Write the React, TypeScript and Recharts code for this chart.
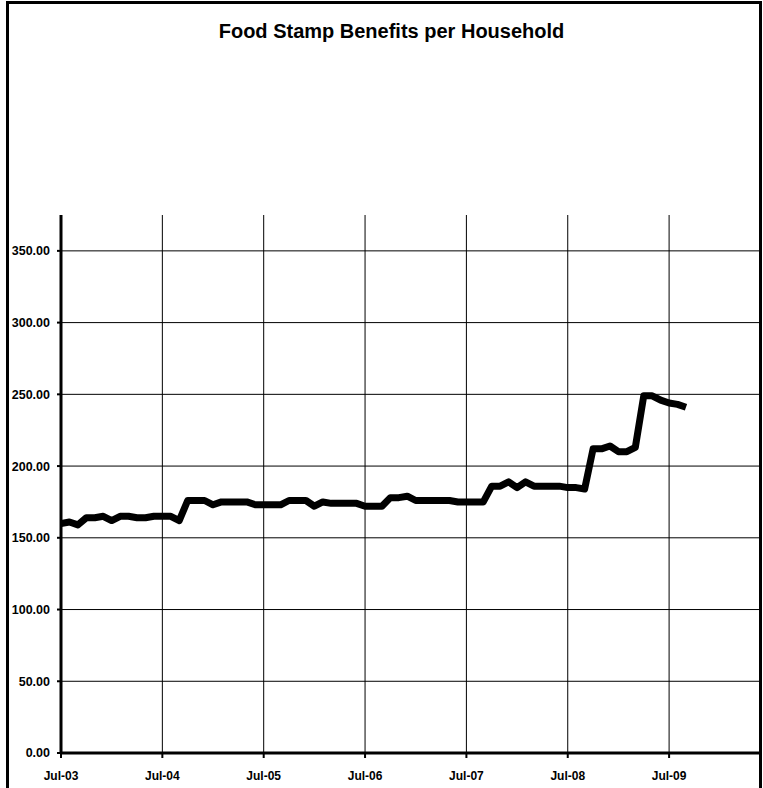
import { CartesianGrid, Line, LineChart, XAxis, YAxis } from "recharts";

// monthly benefit per household, Jul-03 .. Sep-09
const BENEFITS = [
  160, 161, 159, 164, 164, 165, 162, 165, 165, 164, 164, 165,
  165, 165, 162, 176, 176, 176, 173, 175, 175, 175, 175, 173,
  173, 173, 173, 176, 176, 176, 172, 175, 174, 174, 174, 174,
  172, 172, 172, 178, 178, 179, 176, 176, 176, 176, 176, 175,
  175, 175, 175, 186, 186, 189, 185, 189, 186, 186, 186, 186,
  185, 185, 184, 212, 212, 214, 210, 210, 213, 249, 249, 246,
  244, 243, 241,
];

const X_TICKS = [0, 12, 24, 36, 48, 60, 72];
const X_LABELS = ["Jul-03", "Jul-04", "Jul-05", "Jul-06", "Jul-07", "Jul-08", "Jul-09"];
const Y_TICKS = [0, 50, 100, 150, 200, 250, 300, 350];

const font = "'Liberation Sans', Arial, sans-serif";
const xTickStyle = { fill: "#000", fontSize: 12, fontWeight: 700, fontFamily: font };
const yTickStyle = { fill: "#000", fontSize: 12.5, fontWeight: 700, fontFamily: font };

export default function App() {
  const data = BENEFITS.map((v, i) => ({ m: i, v }));

  return (
    <div style={{ position: "absolute", left: 0, top: 0, width: 763, height: 788, overflow: "hidden", background: "#fff" }}>
      <div
        style={{
          position: "absolute",
          left: 6,
          top: 1,
          width: 756,
          height: 820,
          border: "3px solid #000",
          boxSizing: "border-box",
        }}
      />
      <div
        style={{
          position: "absolute",
          left: 0,
          top: 20,
          width: 783,
          textAlign: "center",
          fontFamily: font,
          fontWeight: 700,
          fontSize: 20,
          color: "#000",
        }}
      >
        Food Stamp Benefits per Household
      </div>
      <div style={{ position: "absolute", left: 0, top: 0 }}>
        <LineChart width={763} height={788} data={data} margin={{ top: 215, right: 1, bottom: 0, left: 0 }}>
          <CartesianGrid
            stroke="#000"
            strokeWidth={1}
            horizontalValues={Y_TICKS}
            verticalValues={X_TICKS}
          />
          <XAxis
            dataKey="m"
            type="number"
            domain={[0, 83]}
            ticks={X_TICKS}
            tickFormatter={(v) => X_LABELS[X_TICKS.indexOf(Number(v))] ?? ""}
            height={35}
            tick={xTickStyle}
            tickSize={5}
            tickMargin={13}
            axisLine={{ stroke: "#000", strokeWidth: 3 }}
            tickLine={{ stroke: "#000", strokeWidth: 2 }}
            allowDataOverflow
          />
          <YAxis
            type="number"
            domain={[0, 375]}
            ticks={Y_TICKS}
            tickFormatter={(v) => Number(v).toFixed(2)}
            width={61}
            tick={yTickStyle}
            tickSize={4}
            tickMargin={7}
            axisLine={{ stroke: "#000", strokeWidth: 3 }}
            tickLine={{ stroke: "#000", strokeWidth: 2 }}
            allowDataOverflow
          />
          <Line
            type="linear"
            dataKey="v"
            stroke="#000"
            strokeWidth={7}
            strokeLinejoin="round"
            dot={false}
            isAnimationActive={false}
          />
        </LineChart>
      </div>
    </div>
  );
}
